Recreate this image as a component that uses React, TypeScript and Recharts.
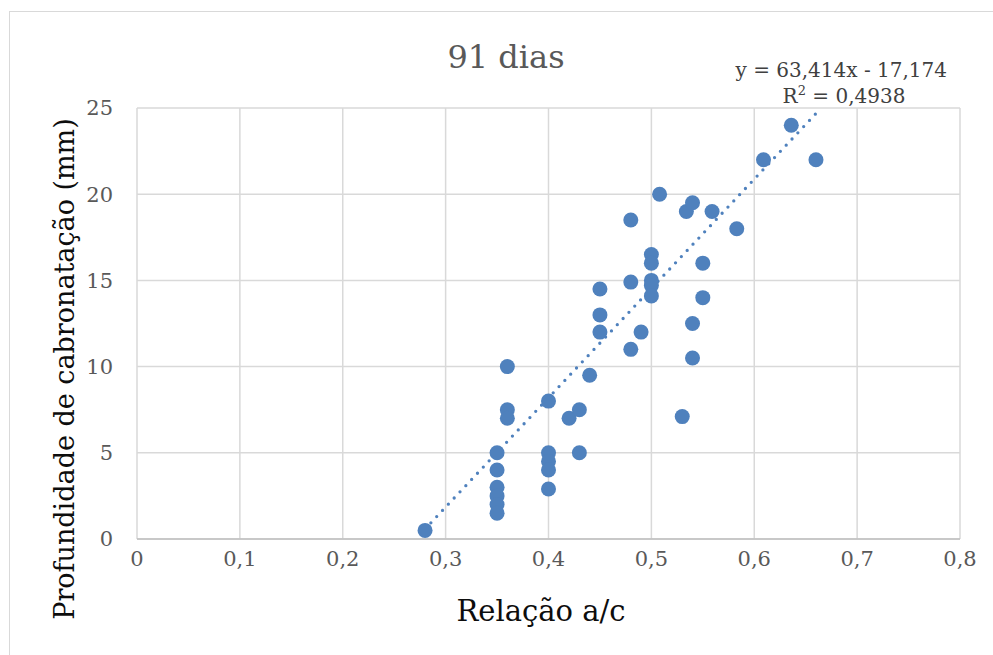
import {
  ScatterChart,
  Scatter,
  XAxis,
  YAxis,
  CartesianGrid,
  ReferenceLine,
} from "recharts";

const relacaoAC = [
  0.28,
  0.35, 0.35, 0.35, 0.35, 0.35, 0.35,
  0.36, 0.36, 0.36,
  0.4, 0.4, 0.4, 0.4, 0.4,
  0.42, 0.43, 0.43, 0.44,
  0.45, 0.45, 0.45,
  0.48, 0.48, 0.48, 0.49,
  0.508, 0.5, 0.5, 0.5, 0.5, 0.5,
  0.53, 0.534, 0.54, 0.54, 0.54, 0.55, 0.55, 0.559, 0.583,
  0.609, 0.636, 0.66,
];

const profundidade = [
  0.5,
  5, 4, 3, 2.5, 2, 1.5,
  10, 7.5, 7,
  8, 5, 4.5, 4, 2.9,
  7, 7.5, 5, 9.5,
  14.5, 13, 12,
  18.5, 14.9, 11, 12,
  20, 16.5, 16, 15, 14.7, 14.1,
  7.1, 19, 19.5, 12.5, 10.5, 16, 14, 19, 18,
  22, 24, 22,
];

const xTicks = [0, 0.1, 0.2, 0.3, 0.4, 0.5, 0.6, 0.7, 0.8];
const yTicks = [0, 5, 10, 15, 20, 25];

// linear trendline from the chart (Excel)
const slope = 63.414;
const intercept = -17.174;
const trendFrom = 0.28;
const trendTo = 0.66;

const BLUE = "#4f81bd";
const FONT = "'DejaVu Serif', serif";

const fmt = (v: number) => String(v).replace(".", ",");

const Dot = (props: any) => <circle cx={props.cx} cy={props.cy} r={7.5} fill={BLUE} />;

export default function App() {
  const data = relacaoAC.map((x, i) => ({ x, y: profundidade[i] }));

  return (
    <div style={{ position: "absolute", left: 0, top: 0, width: 993, height: 655, background: "#fff", overflow: "hidden" }}>
      <div
        style={{
          position: "absolute",
          left: 9,
          top: 11,
          width: 1000,
          height: 700,
          border: "1px solid #d9d9d9",
        }}
      />
      <div style={{ position: "absolute", left: 0, top: 0 }}>
        <ScatterChart width={993} height={655} margin={{ top: 108, right: 33, bottom: 86, left: 0 }}>
          <CartesianGrid stroke="#d9d9d9" strokeWidth={1.5} />
          <XAxis
            type="number"
            dataKey="x"
            domain={[0, 0.8]}
            ticks={xTicks}
            tickFormatter={fmt}
            height={30}
            tickLine={false}
            tickMargin={6}
            axisLine={{ stroke: "#bfbfbf", strokeWidth: 1.5 }}
            tick={{ fontSize: 21, fill: "#595959", fontFamily: FONT }}
          />
          <YAxis
            type="number"
            dataKey="y"
            domain={[0, 25]}
            ticks={yTicks}
            width={137}
            tickLine={false}
            tickMargin={18}
            axisLine={false}
            tick={{ fontSize: 21, fill: "#595959", fontFamily: FONT }}
          />
          <ReferenceLine
            segment={[
              { x: trendFrom, y: slope * trendFrom + intercept },
              { x: trendTo, y: slope * trendTo + intercept },
            ]}
            stroke={BLUE}
            strokeWidth={3.3}
            strokeDasharray="0 8.5"
            strokeLinecap="round"
          />
          <Scatter data={data} shape={Dot} isAnimationActive={false} />
        </ScatterChart>
      </div>
      <svg width={993} height={655} style={{ position: "absolute", left: 0, top: 0, pointerEvents: "none" }}>
        <text x={506} y={68} textAnchor="middle" fontFamily={FONT} fontSize={32} fill="#595959">
          91 dias
        </text>
        <text x={947} y={77} textAnchor="end" fontFamily={FONT} fontSize={20} fill="#404040">
          y = 63,414x - 17,174
        </text>
        <text x={844} y={103} textAnchor="middle" fontFamily={FONT} fontSize={20} fill="#404040">
          R<tspan dy={-8} fontSize={13}>2</tspan>
          <tspan dy={8}> = 0,4938</tspan>
        </text>
        <text x={541} y={621} textAnchor="middle" fontFamily={FONT} fontSize={29} fill="#0d0d0d">
          Relação a/c
        </text>
        <text
          transform="translate(74 369) rotate(-90)"
          textAnchor="middle"
          fontFamily={FONT}
          fontSize={27}
          fill="#0d0d0d"
        >
          Profundidade de cabronatação (mm)
        </text>
      </svg>
    </div>
  );
}
